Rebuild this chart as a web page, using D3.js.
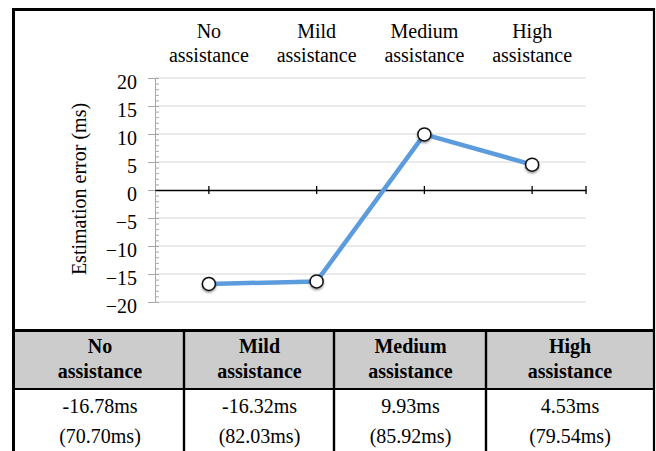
<!DOCTYPE html>
<html>
<head>
<meta charset="utf-8">
<script src="https://cdn.jsdelivr.net/npm/d3@7"></script>
<style>
  html, body { margin: 0; padding: 0; background: #fff; }
  svg { display: block; }
  svg text { font-family: "Liberation Serif", Tinos, "Times New Roman", Times, "DejaVu Serif", serif !important; fill: #000; }
</style>
</head>
<body>
<svg id="chart" width="656" height="451"></svg>
<script>
// ---- Data ----
const categories = ["No assistance", "Mild assistance", "Medium assistance", "High assistance"];
const catWord1 = ["No", "Mild", "Medium", "High"];
const catWord2 = ["assistance", "assistance", "assistance", "assistance"];
const meanError = [-16.78, -16.32, 9.93, 4.53];
const sdError = [70.70, 82.03, 85.92, 79.54];
const yTickValues = [-20, -15, -10, -5, 0, 5, 10, 15, 20];
const yTitle = "Estimation error (ms)";

// ---- Layout ----
const W = 656, H = 451;
const FONT = "'Liberation Serif', Tinos, 'Times New Roman', Times, 'DejaVu Serif', serif";
const svg = d3.select("#chart");
const plotLeft = 155, plotRight = 586, plotTop = 78, plotBottom = 302;

const x = d3.scaleBand().domain(categories).range([plotLeft, plotRight]);
const cx = d => x(d) + x.bandwidth() / 2;
const y = d3.scaleLinear().domain([-20, 20]).range([plotBottom, plotTop]);

// drop shadow
const defs = svg.append("defs");
const f = defs.append("filter").attr("id", "shadow").attr("x", "-50%").attr("y", "-50%").attr("width", "200%").attr("height", "200%");
f.append("feDropShadow").attr("dx", 0).attr("dy", 1.5).attr("stdDeviation", 1).attr("flood-color", "#000").attr("flood-opacity", 0.45);

// gridlines
svg.append("g").selectAll("line").data(yTickValues.filter(v => v !== 0)).join("line")
  .attr("x1", plotLeft).attr("x2", plotRight)
  .attr("y1", d => y(d)).attr("y2", d => y(d))
  .attr("stroke", "#d6d6d6").attr("stroke-width", 1);

// minor ticks on y axis (right side)
const minorVals = d3.range(-20, 21, 1);
const yMinor = svg.append("g").attr("transform", `translate(${plotLeft},0)`)
  .call(d3.axisRight(y).tickValues(minorVals).tickSize(4).tickFormat(""));
yMinor.select(".domain").remove();
yMinor.selectAll("line").attr("stroke", "#a8a8a8");

// major y axis
const yAxis = svg.append("g").attr("transform", `translate(${plotLeft},0)`)
  .call(d3.axisLeft(y).tickValues(yTickValues).tickSize(7).tickSizeOuter(0).tickPadding(11).tickFormat(d3.format("d")));
yAxis.attr("font-family", FONT);
yAxis.select(".domain").attr("stroke", "#a8a8a8");
yAxis.selectAll(".tick line").attr("stroke", "#a8a8a8");
yAxis.selectAll(".tick text")
  .style("font-family", FONT)
  .attr("font-size", 20).attr("fill", "#000").attr("dy", "0.5em");

// y title
svg.append("text")
  .attr("transform", `translate(86,189) rotate(-90)`)
  .attr("text-anchor", "middle").attr("font-size", 20).style("font-family", FONT)
  .text(yTitle);

// zero line with category ticks
const xAxis = svg.append("g").attr("transform", `translate(0,${y(0)})`)
  .call(d3.axisBottom(x).tickSize(4).tickSizeOuter(0).tickFormat(""));
xAxis.select(".domain").attr("stroke", "#000").attr("stroke-width", 1.5);
xAxis.selectAll(".tick line").attr("stroke", "#000").attr("stroke-width", 1.3).attr("y1", -4).attr("y2", 4);
xAxis.append("line")
  .attr("x1", x.range()[1]).attr("x2", x.range()[1]).attr("y1", -4).attr("y2", 4)
  .attr("stroke", "#000").attr("stroke-width", 1.3);

// top category labels
const topLab = svg.append("g").selectAll("text").data(categories).join("text")
  .attr("text-anchor", "middle").attr("font-size", 20).style("font-family", FONT);
topLab.append("tspan").attr("x", d => cx(d)).attr("y", 38).text((d, i) => catWord1[i]);
topLab.append("tspan").attr("x", d => cx(d)).attr("y", 62).text((d, i) => catWord2[i]);

// line
const pts = categories.map((c, i) => [cx(c), y(meanError[i])]);
svg.append("path").datum(pts)
  .attr("d", d3.line())
  .attr("fill", "none").attr("stroke", "#5d9cdc").attr("stroke-width", 4.5)
  .attr("stroke-linejoin", "round").attr("stroke-linecap", "round");

svg.append("g").selectAll("circle").data(pts).join("circle")
  .attr("cx", d => d[0]).attr("cy", d => d[1]).attr("r", 6.5)
  .attr("fill", "#fff").attr("stroke", "#111").attr("stroke-width", 1.5)
  .attr("filter", "url(#shadow)");

// ---- Table ----
const colEdges = [15, 184, 334, 486, 653];
const headerTop = 332, headerBottom = 388;
svg.append("rect").attr("x", 15).attr("y", headerTop).attr("width", 638).attr("height", headerBottom - headerTop)
  .attr("fill", "#cccccc");

svg.append("g").selectAll("line").data(colEdges.slice(1, -1)).join("line")
  .attr("x1", d => d).attr("x2", d => d).attr("y1", headerTop).attr("y2", H)
  .attr("stroke", "#000").attr("stroke-width", 2.4);
svg.append("line").attr("x1", 12).attr("x2", 655).attr("y1", 389).attr("y2", 389)
  .attr("stroke", "#000").attr("stroke-width", 2);
svg.append("line").attr("x1", 12).attr("x2", 655).attr("y1", 330.5).attr("y2", 330.5)
  .attr("stroke", "#000").attr("stroke-width", 3);

const colCenters = categories.map((c, i) => (colEdges[i] + colEdges[i + 1]) / 2 + 0.5);
const head = svg.append("g").selectAll("text").data(categories).join("text")
  .attr("text-anchor", "middle").attr("font-size", 20).attr("font-weight", "bold").style("font-family", FONT);
head.append("tspan").attr("x", (d, i) => colCenters[i]).attr("y", 353).text((d, i) => catWord1[i]);
head.append("tspan").attr("x", (d, i) => colCenters[i]).attr("y", 378).text((d, i) => catWord2[i]);

const body = svg.append("g").selectAll("text").data(categories).join("text")
  .attr("text-anchor", "middle").attr("font-size", 20).style("font-family", FONT);
body.append("tspan").attr("x", (d, i) => colCenters[i]).attr("y", 413).text((d, i) => meanError[i].toFixed(2) + "ms");
body.append("tspan").attr("x", (d, i) => colCenters[i]).attr("y", 443).text((d, i) => "(" + sdError[i].toFixed(2) + "ms)");

// outer border
svg.append("line").attr("x1", 13.5).attr("x2", 13.5).attr("y1", 8).attr("y2", H).attr("stroke", "#000").attr("stroke-width", 3);
svg.append("line").attr("x1", 12).attr("x2", 655).attr("y1", 9.5).attr("y2", 9.5).attr("stroke", "#000").attr("stroke-width", 3);
svg.append("line").attr("x1", 654).attr("x2", 654).attr("y1", 8).attr("y2", H).attr("stroke", "#000").attr("stroke-width", 2.2);
</script>
</body>
</html>
